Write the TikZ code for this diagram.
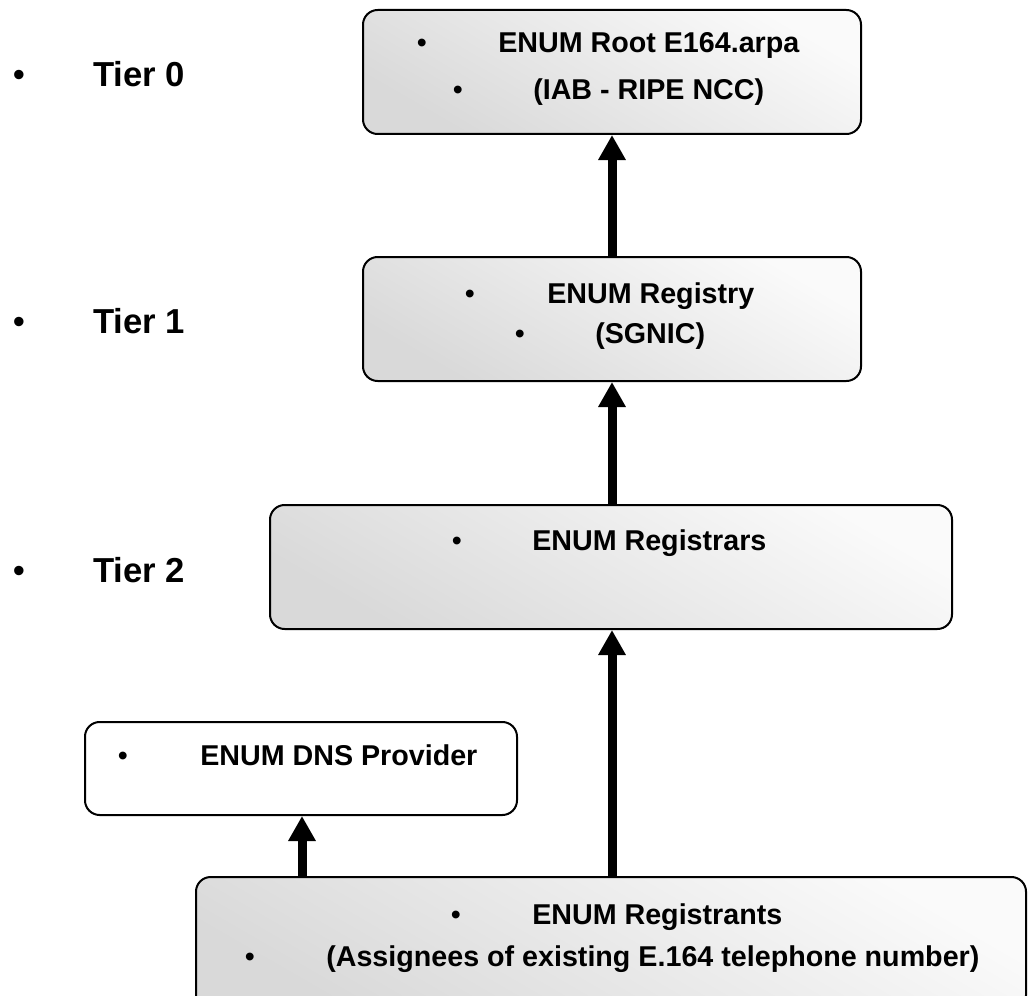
\documentclass[tikz,border=0pt]{standalone}
\usepackage{fontspec}
\setmainfont{Liberation Sans}
\usetikzlibrary{arrows.meta}
\tikzstyle{tierBox} = [
 rectangle,
 draw=black,
 line width=1.5pt,
 rounded corners=11pt,
 top color=black!2,
 bottom color=black!15,
 shading angle=-30,
 minimum height=93pt
]
\tikzstyle{plainBox} = [
 rectangle,
 draw=black,
 line width=1.5pt,
 rounded corners=11pt,
 fill=white
]
\tikzstyle{boxText} = [
 anchor=base west,
 inner sep=0pt,
 font=\bfseries\fontsize{21.5}{24}\selectfont
]
\tikzstyle{boxDot} = [
 anchor=base,
 inner sep=0pt,
 font=\fontsize{21.5}{24}\selectfont
]
\tikzstyle{tierText} = [
 anchor=base west,
 inner sep=0pt,
 font=\bfseries\fontsize{26}{30}\selectfont
]
\tikzstyle{tierDot} = [
 anchor=base,
 inner sep=0pt,
 font=\fontsize{26}{30}\selectfont
]
\tikzstyle{upArrow} = [
 line width=6.75pt,
 -{Triangle[width=19.5pt,length=18.75pt]}
]

\begin{document}
\begin{tikzpicture}[x=0.75pt,y=-0.75pt]
  \useasboundingbox (0,0) rectangle (1030,995);
  \coordinate (spine) at (612,0);
  \coordinate (dnsFoot) at (302,0);

  % tier labels
  \node [tierDot] (dot0) at (19,87) {•};
  \node [tierText] (tier0) at (93,87) {Tier 0};
  \node [tierDot] (dot1) at (19,333) {•};
  \node [tierText] (tier1) at (93,333) {Tier 1};
  \node [tierDot] (dot2) at (19,582) {•};
  \node [tierText] (tier2) at (93,582) {Tier 2};

  % boxes
  \node [tierBox, minimum width=373.5pt] (root) at (612,72) {};
  \node [tierBox, minimum width=373.5pt] (registry) at (612,319) {};
  \node [tierBox, minimum width=511.5pt] (registrars) at (611,567) {};
  \node [plainBox, minimum width=324pt, minimum height=69.75pt] (dns) at (301,768.5) {};
  \node [tierBox, minimum width=622.5pt, minimum height=99.75pt] (registrants) at (611,943.5) {};

  % box texts
  \node [boxDot] (rootDotA) at (422,53) {•};
  \node [boxText] (rootA) at (498,53) {ENUM Root E164.arpa};
  \node [boxDot] (rootDotB) at (458,100) {•};
  \node [boxText] (rootB) at (533,100) {(IAB - RIPE NCC)};

  \node [boxDot] (registryDotA) at (470,303) {•};
  \node [boxText] (registryA) at (547,303) {ENUM Registry};
  \node [boxDot] (registryDotB) at (520,343) {•};
  \node [boxText] (registryB) at (595,343) {(SGNIC)};

  \node [boxDot] (registrarsDot) at (457,550) {•};
  \node [boxText] (registrarsA) at (532,550) {ENUM Registrars};

  \node [boxDot] (dnsDot) at (123,765) {•};
  \node [boxText] (dnsA) at (200,765) {ENUM DNS Provider};

  \node [boxDot] (registrantsDotA) at (456,924) {•};
  \node [boxText] (registrantsA) at (532,924) {ENUM Registrants};
  \node [boxDot] (registrantsDotB) at (250,966) {•};
  \node [boxText] (registrantsB) at (326,966) {(Assignees of existing E.164 telephone number)};

  % arrows
  \draw [upArrow] (registry.north -| spine) -- (root.south -| spine);
  \draw [upArrow] (registrars.north -| spine) -- (registry.south -| spine);
  \draw [upArrow] (registrants.north -| spine) -- (registrars.south -| spine);
  \draw [upArrow] (registrants.north -| dnsFoot) -- (dns.south -| dnsFoot);
\end{tikzpicture}
\end{document}
